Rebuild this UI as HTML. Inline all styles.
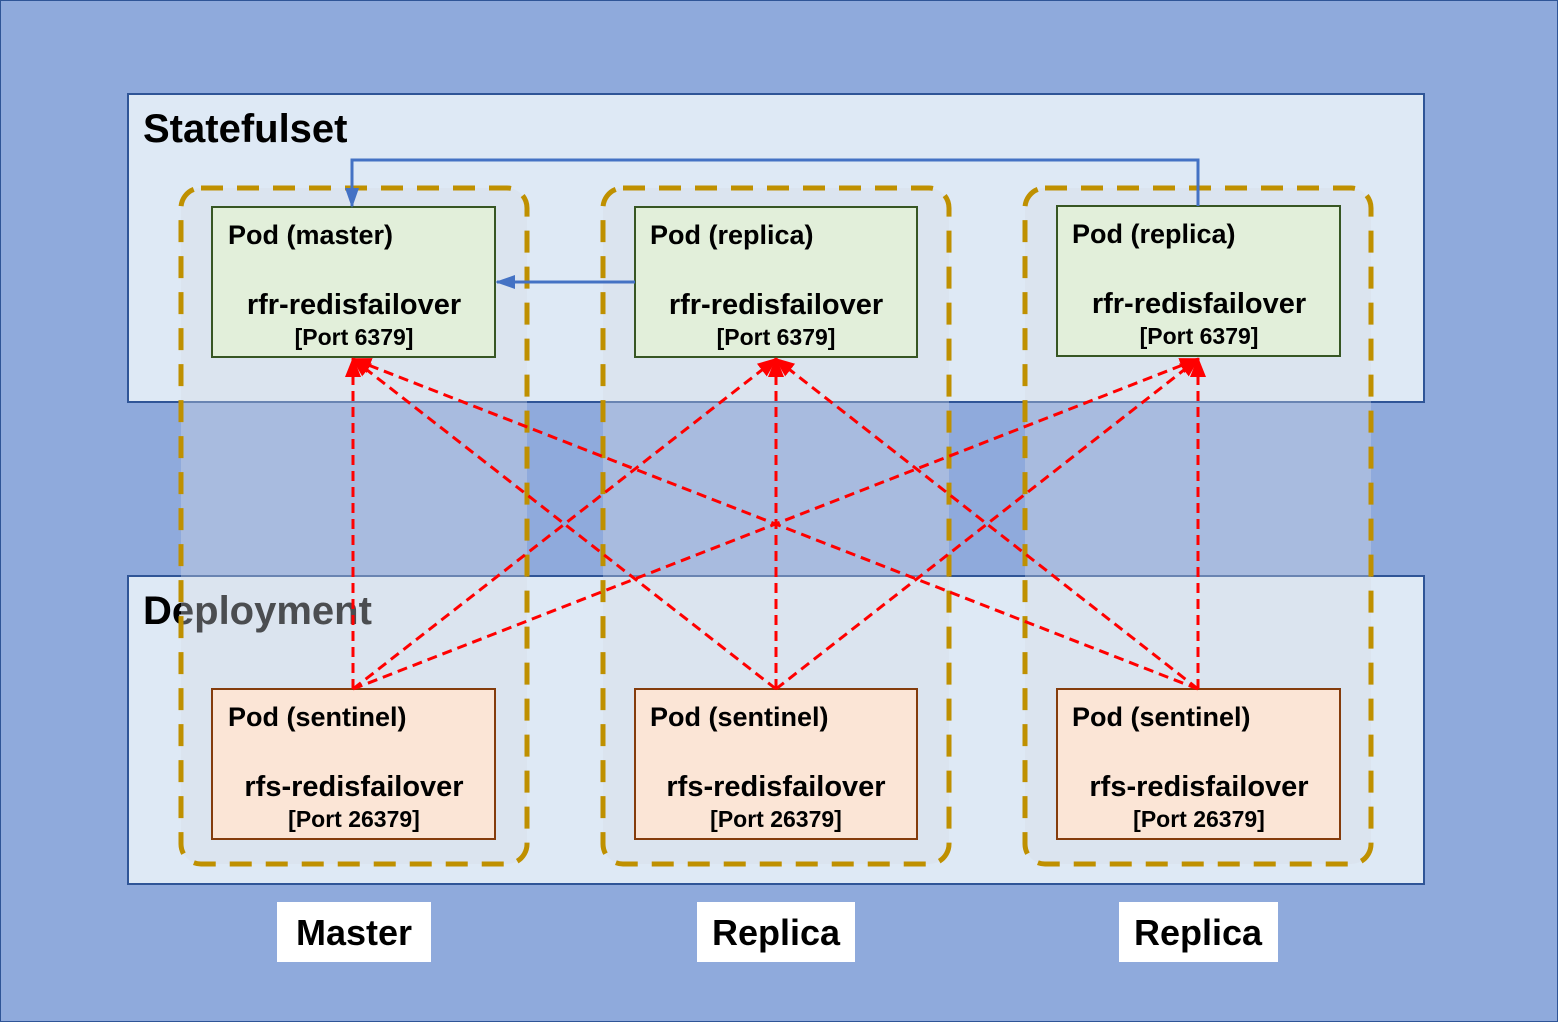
<!DOCTYPE html>
<html><head><meta charset="utf-8"><style>
html,body{margin:0;padding:0;background:#8faadc}
svg{display:block}
text{font-family:"Liberation Sans","Noto Sans CJK KR",sans-serif;font-weight:bold;fill:#000}
</style></head><body>
<svg width="1558" height="1022" viewBox="0 0 1558 1022" xmlns="http://www.w3.org/2000/svg">
<defs>
<marker id="rb" markerWidth="20" markerHeight="20" refX="18" refY="10" orient="auto" markerUnits="userSpaceOnUse" viewBox="0 0 20 20"><path d="M0,2 L20,10 L0,18 z" fill="#ff0000"/></marker>
<marker id="b" markerWidth="20" markerHeight="20" refX="18" refY="10" orient="auto" markerUnits="userSpaceOnUse" viewBox="0 0 20 20"><path d="M0,3 L20,10 L0,17 z" fill="#4472c4"/></marker>
</defs>
<rect x="0.5" y="0.5" width="1557" height="1021" fill="#8faadc" stroke="#2f5597" stroke-width="1"/>
<rect x="128" y="94" width="1296" height="308" fill="#dee9f5" stroke="#2f5597" stroke-width="2"/>
<rect x="128" y="576" width="1296" height="308" fill="#dee9f5" stroke="#2f5597" stroke-width="2"/>
<text x="143" y="142" font-size="40">Statefulset</text>
<text x="143" y="624" font-size="40">Deployment</text>
<g fill="#d8dde4" fill-opacity="0.35" stroke="#bf9000" stroke-width="5" stroke-dasharray="22 14">
<rect x="181" y="188" width="346" height="676" rx="20"/>
<rect x="603" y="188" width="346" height="676" rx="20"/>
<rect x="1025" y="188" width="346" height="676" rx="20"/>
</g>
<g stroke="#375623" stroke-width="2" fill="#e2efda">
<rect x="212" y="207" width="283" height="150"/>
<rect x="635" y="207" width="282" height="150"/>
<rect x="1057" y="206" width="283" height="150"/>
</g>
<g stroke="#843c0c" stroke-width="2" fill="#fbe5d6">
<rect x="212" y="689" width="283" height="150"/>
<rect x="635" y="689" width="282" height="150"/>
<rect x="1057" y="689" width="283" height="150"/>
</g>
<g font-size="27">
<text x="228" y="244">Pod (master)</text>
<text x="650" y="244">Pod (replica)</text>
<text x="1072" y="243">Pod (replica)</text>
<text x="228" y="726">Pod (sentinel)</text>
<text x="650" y="726">Pod (sentinel)</text>
<text x="1072" y="726">Pod (sentinel)</text>
</g>
<g font-size="29" text-anchor="middle">
<text x="354" y="314">rfr-redisfailover</text>
<text x="776" y="314">rfr-redisfailover</text>
<text x="1199" y="313">rfr-redisfailover</text>
<text x="354" y="796">rfs-redisfailover</text>
<text x="776" y="796">rfs-redisfailover</text>
<text x="1199" y="796">rfs-redisfailover</text>
</g>
<g font-size="23" text-anchor="middle">
<text x="354" y="345">[Port 6379]</text>
<text x="776" y="345">[Port 6379]</text>
<text x="1199" y="344">[Port 6379]</text>
<text x="354" y="827">[Port 26379]</text>
<text x="776" y="827">[Port 26379]</text>
<text x="1199" y="827">[Port 26379]</text>
</g>
<g stroke="#ff0000" stroke-width="3" stroke-dasharray="10 6" fill="none" marker-end="url(#rb)">
<line x1="353" y1="689" x2="353" y2="359"/>
<line x1="353" y1="689" x2="776" y2="359"/>
<line x1="353" y1="689" x2="1198" y2="359"/>
<line x1="776" y1="689" x2="353" y2="359"/>
<line x1="776" y1="689" x2="776" y2="359"/>
<line x1="776" y1="689" x2="1198" y2="359"/>
<line x1="1198" y1="689" x2="353" y2="359"/>
<line x1="1198" y1="689" x2="776" y2="359"/>
<line x1="1198" y1="689" x2="1198" y2="359"/>
</g>
<g stroke="#4472c4" stroke-width="3" fill="none" marker-end="url(#b)">
<polyline points="1198,206 1198,160 352,160 352,206"/>
<line x1="635" y1="282" x2="497" y2="282"/>
</g>
<g fill="#ffffff">
<rect x="277" y="902" width="154" height="60"/>
<rect x="697" y="902" width="158" height="60"/>
<rect x="1119" y="902" width="159" height="60"/>
</g>
<g font-size="36" text-anchor="middle">
<text x="354" y="945">Master</text>
<text x="776" y="945">Replica</text>
<text x="1198" y="945">Replica</text>
</g>
</svg>
</body></html>
